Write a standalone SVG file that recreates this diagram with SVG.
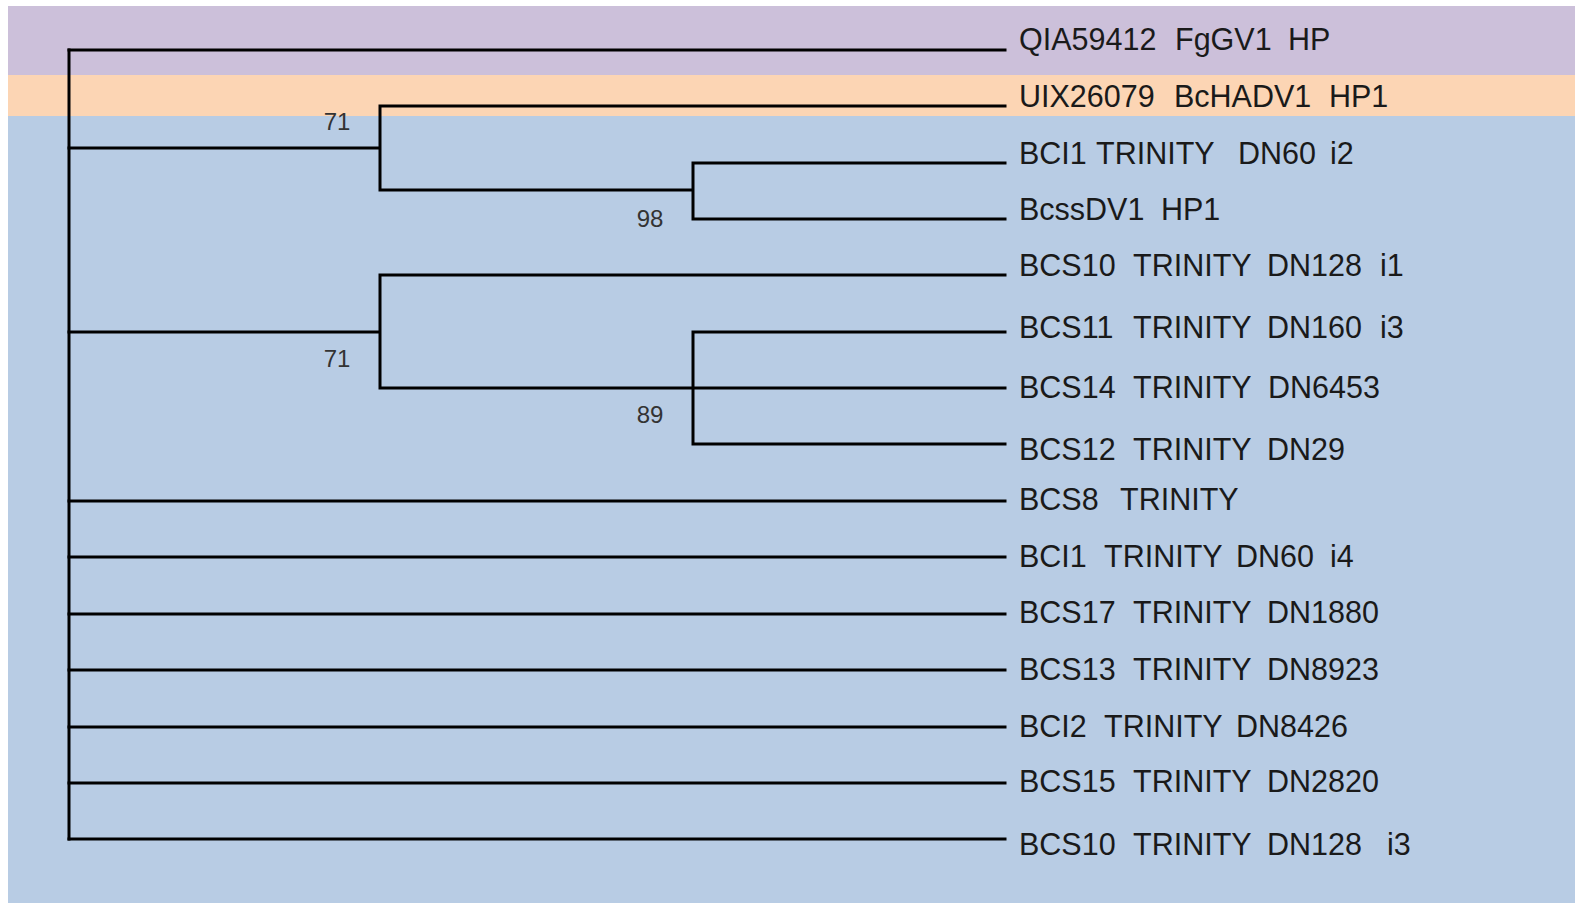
<svg xmlns="http://www.w3.org/2000/svg" width="1575" height="903" viewBox="0 0 1575 903">
  <style>
    .leaf { font-family: "Liberation Sans", Arial, sans-serif; font-size: 30.5px; fill: #1a1a1a; }
    .bs { font-family: "Liberation Sans", Arial, sans-serif; font-size: 24px; fill: #333333; text-anchor: middle; }
    .br { stroke: #000000; stroke-width: 3; fill: none; stroke-linecap: square; }
  </style>
  <rect x="0" y="0" width="1575" height="903" fill="#ffffff"/>
  <!-- group bands -->
  <rect x="8" y="6" width="1567" height="69" fill="#ccc0da"/>
  <rect x="8" y="75" width="1567" height="41" fill="#fcd5b4"/>
  <rect x="8" y="116" width="1567" height="787" fill="#b8cce4"/>

  <!-- branches -->
  <g id="connectors">
    <path class="br" d="M69,50 V839"/>
    <path class="br" d="M69,50 H1005"/>
    <path class="br" d="M69,148 H380 M380,106 V190 M380,106 H1005 M380,190 H693 M693,163 V219 M693,163 H1005 M693,219 H1005"/>
    <path class="br" d="M69,332 H380 M380,275 V388 M380,275 H1005 M380,388 H1005 M693,332 V444 M693,332 H1005 M693,444 H1005"/>
    <path class="br" d="M69,501 H1005 M69,557 H1005 M69,614 H1005 M69,670 H1005 M69,727 H1005 M69,783 H1005 M69,839 H1005"/>
  </g>

  <!-- bootstrap values -->
  <g id="support">
    <text class="bs" x="337" y="130">71</text>
    <text class="bs" x="650" y="227">98</text>
    <text class="bs" x="337" y="367">71</text>
    <text class="bs" x="650" y="423">89</text>
  </g>

  <!-- leaf labels -->
  <g id="leaf-QIA59412"><text class="leaf" y="50"><tspan x="1019">QIA59412</tspan><tspan x="1175">FgGV1</tspan><tspan x="1288">HP</tspan></text></g>
  <g id="leaf-UIX26079"><text class="leaf" y="107"><tspan x="1019">UIX26079</tspan><tspan x="1174">BcHADV1</tspan><tspan x="1329">HP1</tspan></text></g>
  <g id="leaf-BCI1-i2"><text class="leaf" y="164"><tspan x="1019">BCI1</tspan><tspan x="1096">TRINITY</tspan><tspan x="1238">DN60</tspan><tspan x="1330">i2</tspan></text></g>
  <g id="leaf-BcssDV1"><text class="leaf" y="220"><tspan x="1019">BcssDV1</tspan><tspan x="1161">HP1</tspan></text></g>
  <g id="leaf-BCS10-i1"><text class="leaf" y="276"><tspan x="1019">BCS10</tspan><tspan x="1133">TRINITY</tspan><tspan x="1267">DN128</tspan><tspan x="1380">i1</tspan></text></g>
  <g id="leaf-BCS11"><text class="leaf" y="337.5"><tspan x="1019">BCS11</tspan><tspan x="1133">TRINITY</tspan><tspan x="1267">DN160</tspan><tspan x="1380">i3</tspan></text></g>
  <g id="leaf-BCS14"><text class="leaf" y="398"><tspan x="1019">BCS14</tspan><tspan x="1133">TRINITY</tspan><tspan x="1268">DN6453</tspan></text></g>
  <g id="leaf-BCS12"><text class="leaf" y="459.5"><tspan x="1019">BCS12</tspan><tspan x="1133">TRINITY</tspan><tspan x="1267">DN29</tspan></text></g>
  <g id="leaf-BCS8"><text class="leaf" y="509.5"><tspan x="1019">BCS8</tspan><tspan x="1120">TRINITY</tspan></text></g>
  <g id="leaf-BCI1-i4"><text class="leaf" y="566.5"><tspan x="1019">BCI1</tspan><tspan x="1104">TRINITY</tspan><tspan x="1236">DN60</tspan><tspan x="1330">i4</tspan></text></g>
  <g id="leaf-BCS17"><text class="leaf" y="622.5"><tspan x="1019">BCS17</tspan><tspan x="1133">TRINITY</tspan><tspan x="1267">DN1880</tspan></text></g>
  <g id="leaf-BCS13"><text class="leaf" y="679.5"><tspan x="1019">BCS13</tspan><tspan x="1133">TRINITY</tspan><tspan x="1267">DN8923</tspan></text></g>
  <g id="leaf-BCI2"><text class="leaf" y="736.5"><tspan x="1019">BCI2</tspan><tspan x="1104">TRINITY</tspan><tspan x="1236">DN8426</tspan></text></g>
  <g id="leaf-BCS15"><text class="leaf" y="792"><tspan x="1019">BCS15</tspan><tspan x="1133">TRINITY</tspan><tspan x="1267">DN2820</tspan></text></g>
  <g id="leaf-BCS10-i3"><text class="leaf" y="854.5"><tspan x="1019">BCS10</tspan><tspan x="1133">TRINITY</tspan><tspan x="1267">DN128</tspan><tspan x="1387">i3</tspan></text></g>
</svg>
